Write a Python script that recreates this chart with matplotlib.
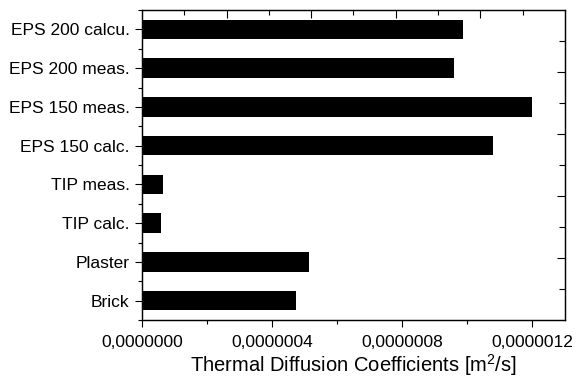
import matplotlib
matplotlib.use("Agg")
import matplotlib.pyplot as plt

plt.rcParams["font.family"] = ["Liberation Sans", "DejaVu Sans"]
plt.rcParams["mathtext.fontset"] = "custom"
plt.rcParams["mathtext.rm"] = "Liberation Sans"

# data, listed top to bottom as in the chart
materials = ["EPS 200 calcu.", "EPS 200 meas.", "EPS 150 meas.", "EPS 150 calc.",
             "TIP meas.", "TIP calc.", "Plaster", "Brick"]
diffusivity = [0.987e-6, 0.960e-6, 1.199e-6, 1.078e-6,
               0.064e-6, 0.058e-6, 0.512e-6, 0.474e-6]
x_ticks = [0, 0.4e-6, 0.8e-6, 1.2e-6]
x_minor = [0.2e-6, 0.6e-6, 1.0e-6]

fig = plt.figure(figsize=(5.83, 3.82), dpi=100)
ax = fig.add_axes([0.2436, 0.1623, 0.7254, 0.8115])

pos = list(range(len(materials)))[::-1]
ax.barh(pos, diffusivity, height=0.5, color="black")

ax.set_ylim(-0.5, 7.5)
ax.set_xlim(0, 1.3e-6)
ax.set_yticks(pos)
ax.set_yticklabels(materials, fontsize=12.5)
ax.set_yticks([p + 0.5 for p in range(-1, 8)], minor=True)
ax.set_xticks(x_ticks)
ax.set_xticklabels([f"{v:.7f}".replace(".", ",") for v in x_ticks], fontsize=12.5)
ax.set_xticks(x_minor, minor=True)
ax.tick_params(which="major", direction="out", length=5, width=0.8)
ax.tick_params(axis="x", which="major", pad=6)
ax.tick_params(axis="y", which="major", pad=4)
ax.tick_params(which="minor", direction="out", length=3, width=0.8)
ax.set_xlabel(r"Thermal Diffusion Coefficients [m$^\mathregular{2}$/s]", fontsize=14.5, labelpad=1)

for s in ax.spines.values():
    s.set_linewidth(0.9)

# mirror axes (top and right) with their own tick spacing
top = ax.twiny()
top.set_xlim(0, 1)
top.set_xticks([0.2, 0.4, 0.6, 0.8])
top.set_xticks([0.1, 0.3, 0.5, 0.7, 0.9], minor=True)
top.tick_params(which="major", direction="in", length=6, width=0.8, labeltop=False)
top.tick_params(which="minor", direction="in", length=3.5, width=0.8)

right = ax.twinx()
right.set_ylim(0, 1)
right.set_yticks([0.2, 0.4, 0.6, 0.8])
right.set_yticks([0.1, 0.3, 0.5, 0.7, 0.9], minor=True)
right.tick_params(which="major", direction="in", length=6, width=0.8, labelright=False)
right.tick_params(which="minor", direction="in", length=4, width=0.8)

fig.savefig("out.png", dpi=100)
